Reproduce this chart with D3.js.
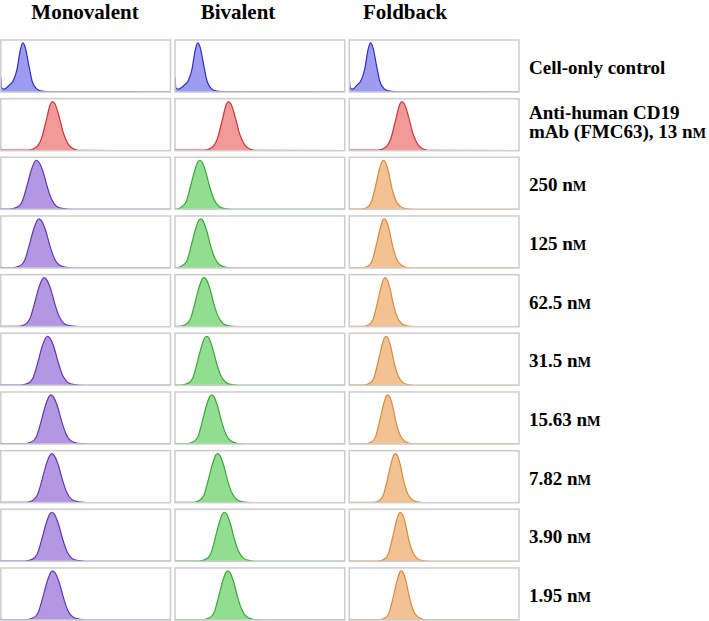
<!DOCTYPE html>
<html>
<head>
<meta charset="utf-8">
<style>
  body { margin: 0; background: #fff; }
  text { font-family: "Liberation Serif", "Times New Roman", serif; font-weight: bold; fill: #000; }
</style>
</head>
<body>
<script src="https://cdn.jsdelivr.net/npm/d3@7"></script>
<script>
// column titles and row labels
var columns = ["Monovalent", "Bivalent", "Foldback"];
var rowLabels = [
  ["Cell-only control"],
  ["Anti-human CD19", "mAb (FMC63), 13 nM"],
  ["250 nM"], ["125 nM"], ["62.5 nM"], ["31.5 nM"],
  ["15.63 nM"], ["7.82 nM"], ["3.90 nM"], ["1.95 nM"]
];

// histogram outlines, [fluorescence channel 0-100, count 0-100], one list per row
var monovalent = [
  [[0,30],[0.6,8],[2,6],[5,14],[7.5,24],[9.5,45],[11.5,85],[13,100],[14.5,90],[16.5,55],[18.5,22],[21,7],[24,2],[30,0.5],[100,0]],
  [[0,4],[0.6,1],[16.5,1],[20.5,6],[24,25],[27,65],[29.3,95],[30.5,100],[32,95],[34.5,68],[37,35],[40,12],[43.5,3],[47.5,0.5],[100,0]],
  [[0,3],[0.6,0.5],[5,0.5],[9.5,4],[12.5,15],[15.2,45],[17.8,78],[20,97],[21,100],[22.5,96],[24.8,78],[27.5,45],[30,20],[33,6],[37,1.5],[42,0],[100,0]],
  [[0,3],[0.6,0.5],[6.5,0.5],[11,4],[14,15],[16.7,45],[19.3,78],[21.5,97],[22.5,100],[24,96],[26.3,78],[29,45],[31.5,20],[34.5,6],[38.5,1.5],[43.5,0],[100,0]],
  [[0,3],[0.6,0.5],[9.5,0.5],[14,4],[17,15],[19.7,45],[22.3,78],[24.5,97],[25.5,100],[27,96],[29.3,78],[32,45],[34.5,20],[37.5,6],[41.5,1.5],[46.5,0],[100,0]],
  [[0,3],[0.6,0.5],[11.5,0.5],[16,4],[19,15],[21.7,45],[24.3,78],[26.5,97],[27.5,100],[29,96],[31.3,78],[34,45],[36.5,20],[39.5,6],[43.5,1.5],[48.5,0],[100,0]],
  [[0,3],[0.6,0.5],[13.5,0.5],[18,4],[21,15],[23.7,45],[26.3,78],[28.5,97],[29.5,100],[31,96],[33.3,78],[36,45],[38.5,20],[41.5,6],[45.5,1.5],[50.5,0],[100,0]],
  [[0,3],[0.6,0.5],[14,0.5],[18.5,4],[21.5,15],[24.2,45],[26.8,78],[29,97],[30,100],[31.5,96],[33.8,78],[36.5,45],[39,20],[42,6],[46,1.5],[51,0],[100,0]],
  [[0,3],[0.6,0.5],[14,0.5],[18.5,4],[21.5,15],[24.2,45],[26.8,78],[29,97],[30,100],[31.5,96],[33.8,78],[36.5,45],[39,20],[42,6],[46,1.5],[51,0],[100,0]],
  [[0,3],[0.6,0.5],[14.5,0.5],[19,4],[22,15],[24.7,45],[27.3,78],[29.5,97],[30.5,100],[32,96],[34.3,78],[37,45],[39.5,20],[42.5,6],[46.5,1.5],[51.5,0],[100,0]]
];
var bivalent = [
  [[0,30],[0.6,8],[2,6],[5.4,14],[7.9,24],[9.9,45],[11.9,85],[13.4,100],[14.9,90],[16.9,55],[18.9,22],[21.4,7],[24.4,2],[30.4,0.5],[100,0]],
  [[0,4],[0.6,1],[17.5,1],[21.5,6],[25,25],[28,65],[30.3,95],[31.5,100],[33,95],[35.5,68],[38,35],[41,12],[44.5,3],[48.5,0.5],[100,0]],
  [[0,3],[0.6,0.5],[3.5,4],[6.5,15],[9,45],[11.5,78],[13.5,97],[14.5,100],[16,96],[18,78],[20.5,45],[23,20],[26,6],[29.5,1.5],[34.5,0],[100,0]],
  [[0,3],[0.6,0.5],[4,4],[7,15],[9.5,45],[12,78],[14,97],[15,100],[16.5,96],[18.5,78],[21,45],[23.5,20],[26.5,6],[30,1.5],[35,0],[100,0]],
  [[0,3],[0.6,0.5],[2,0.5],[6,4],[9,15],[11.5,45],[14,78],[16,97],[17,100],[18.5,96],[20.5,78],[23,45],[25.5,20],[28.5,6],[32,1.5],[37,0],[100,0]],
  [[0,3],[0.6,0.5],[3.5,0.5],[7.5,4],[10.5,15],[13,45],[15.5,78],[17.5,97],[18.5,100],[20,96],[22,78],[24.5,45],[27,20],[30,6],[33.5,1.5],[38.5,0],[100,0]],
  [[0,3],[0.6,0.5],[6.5,0.5],[10.5,4],[13.5,15],[16,45],[18.5,78],[20.5,97],[21.5,100],[23,96],[25,78],[27.5,45],[30,20],[33,6],[36.5,1.5],[41.5,0],[100,0]],
  [[0,3],[0.6,0.5],[10,0.5],[14,4],[17,15],[19.5,45],[22,78],[24,97],[25,100],[26.5,96],[28.5,78],[31,45],[33.5,20],[36.5,6],[40,1.5],[45,0],[100,0]],
  [[0,3],[0.6,0.5],[14,0.5],[18,4],[21,15],[23.5,45],[26,78],[28,97],[29,100],[30.5,96],[32.5,78],[35,45],[37.5,20],[40.5,6],[44,1.5],[49,0],[100,0]],
  [[0,3],[0.6,0.5],[16,0.5],[20,4],[23,15],[25.5,45],[28,78],[30,97],[31,100],[32.5,96],[34.5,78],[37,45],[39.5,20],[42.5,6],[46,1.5],[51,0],[100,0]]
];
var foldback = [
  [[0,30],[0.6,8],[2,6],[4.5,14],[7,24],[9,45],[11,85],[12.5,100],[14,90],[16,55],[18,22],[20.5,7],[23.5,2],[29.5,0.5],[100,0]],
  [[0,4],[0.6,1],[17,1],[21,6],[24.5,25],[27.5,65],[29.8,95],[31,100],[32.5,95],[35,68],[37.5,35],[40.5,12],[44,3],[48,0.5],[100,0]],
  [[0,2],[0.6,0.5],[7,0.5],[10.5,4],[13,15],[15.3,45],[17.5,78],[19.2,97],[20,100],[21.3,96],[23,78],[25,45],[27.2,20],[30,6],[33,1.5],[37,0],[100,0]],
  [[0,2],[0.6,0.5],[7.5,0.5],[11,4],[13.5,15],[15.8,45],[18,78],[19.7,97],[20.5,100],[21.8,96],[23.5,78],[25.5,45],[27.7,20],[30.5,6],[33.5,1.5],[37.5,0],[100,0]],
  [[0,2],[0.6,0.5],[8,0.5],[11.5,4],[14,15],[16.3,45],[18.5,78],[20.2,97],[21,100],[22.3,96],[24,78],[26,45],[28.2,20],[31,6],[34,1.5],[38,0],[100,0]],
  [[0,2],[0.6,0.5],[8.5,0.5],[12,4],[14.5,15],[16.8,45],[19,78],[20.7,97],[21.5,100],[22.8,96],[24.5,78],[26.5,45],[28.7,20],[31.5,6],[34.5,1.5],[38.5,0],[100,0]],
  [[0,2],[0.6,0.5],[9.5,0.5],[13,4],[15.5,15],[17.8,45],[20,78],[21.7,97],[22.5,100],[23.8,96],[25.5,78],[27.5,45],[29.7,20],[32.5,6],[35.5,1.5],[39.5,0],[100,0]],
  [[0,2],[0.6,0.5],[14,0.5],[17.5,4],[20,15],[22.3,45],[24.5,78],[26.2,97],[27,100],[28.3,96],[30,78],[32,45],[34.2,20],[37,6],[40,1.5],[44,0],[100,0]],
  [[0,2],[0.6,0.5],[17,0.5],[20.5,4],[23,15],[25.3,45],[27.5,78],[29.2,97],[30,100],[31.3,96],[33,78],[35,45],[37.2,20],[40,6],[43,1.5],[47,0],[100,0]],
  [[0,2],[0.6,0.5],[17.5,0.5],[21,4],[23.5,15],[25.8,45],[28,78],[29.7,97],[30.5,100],[31.8,96],[33.5,78],[35.5,45],[37.7,20],[40.5,6],[43.5,1.5],[47.5,0],[100,0]]
];
var series = [monovalent, bivalent, foldback];

// colours: row 1 control, row 2 mAb, the rest per construct
var controlColor = {fill: "#9c9cf2", stroke: "#2e2ec4"};
var mabColor = {fill: "#f29a9a", stroke: "#cf3535"};
var constructColors = [
  {fill: "#b497e2", stroke: "#6436b5"},
  {fill: "#92de90", stroke: "#38a838"},
  {fill: "#f3c292", stroke: "#d98a3c"}
];

var W = 709, H = 621;
var svg = d3.select("body").append("svg").attr("width", W).attr("height", H);

var col = d3.scaleBand().domain(d3.range(3)).range([0.75, 519]).paddingInner(0.026);
var row = d3.scaleBand().domain(d3.range(10)).range([40, 620]).paddingInner(0.113);

var headerX = [85, 238, 405];
svg.selectAll("text.head").data(columns).enter().append("text")
  .attr("class", "head")
  .attr("x", function(d, i) { return headerX[i]; })
  .attr("y", 19)
  .attr("text-anchor", "middle")
  .style("font-size", "21px")
  .text(function(d) { return d; });

var x = d3.scaleLinear().domain([0, 100]);
var y = d3.scaleLinear().domain([0, 106]);
var area = d3.area().curve(d3.curveMonotoneX)
  .x(function(d) { return x(d[0]); }).y0(function() { return y(0); }).y1(function(d) { return y(d[1]); });
var line = d3.line().curve(d3.curveMonotoneX)
  .x(function(d) { return x(d[0]); }).y(function(d) { return y(d[1]); });

var defs = svg.append("defs");

series.forEach(function(curves, c) {
  curves.forEach(function(pts, r) {
    var x0 = col(c), w = col.bandwidth(), y0 = row(r), h = row.bandwidth();
    x.range([x0, x0 + w]);
    y.range([y0 + h, y0]);
    var color = r === 0 ? controlColor : (r === 1 ? mabColor : constructColors[c]);
    var id = "clip" + c + "_" + r;
    defs.append("clipPath").attr("id", id).append("rect")
      .attr("x", x0).attr("y", y0).attr("width", w).attr("height", h);
    var g = svg.append("g").attr("clip-path", "url(#" + id + ")");
    g.append("path").datum(pts).attr("d", area).attr("fill", color.fill);
    g.append("path").datum(pts).attr("d", line).attr("fill", "none")
      .attr("stroke", color.stroke).attr("stroke-width", 1.2);
    svg.append("rect").attr("x", x0).attr("y", y0).attr("width", w).attr("height", h)
      .attr("fill", "none").attr("stroke", "#cdcdcd").attr("stroke-width", 1.5);
  });
});

// row labels, "nM" set with a small-capital M
function addLabel(sel, str) {
  var parts = str.split("nM");
  sel.append("tspan").text(parts[0]);
  if (parts.length > 1) {
    sel.append("tspan").text("n");
    sel.append("tspan").style("font-size", "0.76em").text("M");
  }
}
rowLabels.forEach(function(lines, r) {
  var cy = row(r) + row.bandwidth() / 2;
  var base = lines.length === 1 ? cy + 8 : cy - 6;
  lines.forEach(function(s, k) {
    var t = svg.append("text").attr("x", 529).attr("y", base + k * 19).style("font-size", "19px");
    addLabel(t, s);
  });
});
</script>
</body>
</html>
